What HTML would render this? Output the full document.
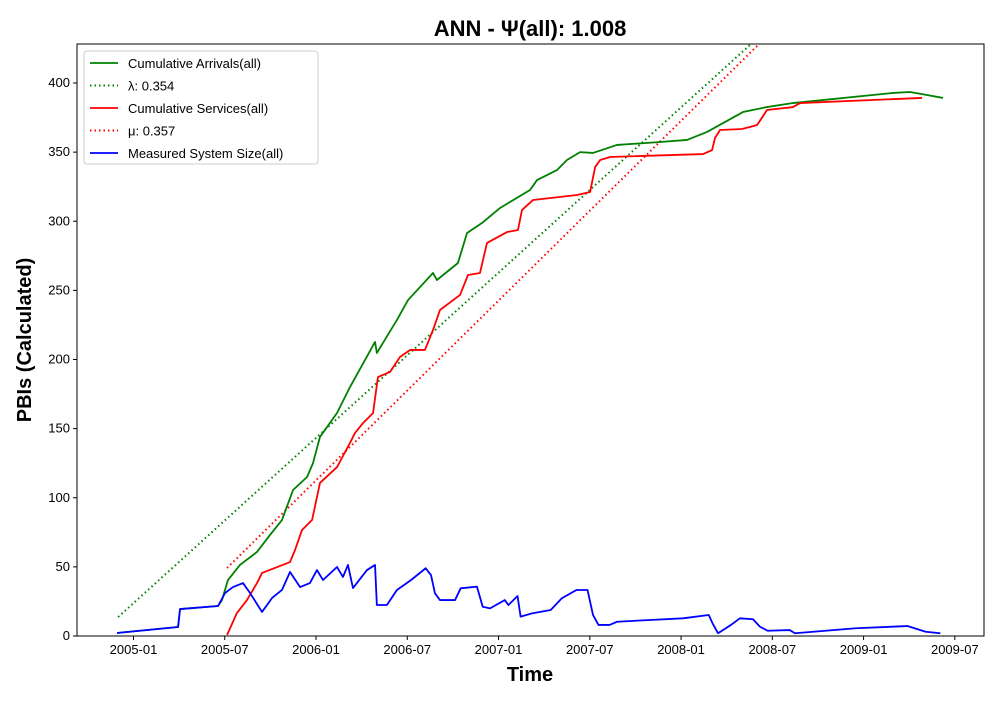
<!DOCTYPE html>
<html><head><meta charset="utf-8"><style>
body{margin:0;background:#fff;font-family:"Liberation Sans",sans-serif}
</style></head><body>
<svg id="chart" width="1000" height="700" xmlns="http://www.w3.org/2000/svg" font-family="Liberation Sans, DejaVu Sans, sans-serif"></svg>
<script>
// x values: months since 2005-01-01
const arrX=[-1.08,2.93,3.06,5.56,5.82,6.21,7.0,8.12,8.97,9.76,10.49,11.41,11.8,12.26,13.38,14.23,15.88,16.0,17.32,18.05,19.69,19.95,21.33,21.93,22.91,24.1,26.07,26.53,27.84,28.5,29.36,30.21,31.79,34.62,36.39,37.71,38.76,40.07,41.65,43.36,49.93,51.05,52.17,53.22];
const arrY=[2.2,6.5,19.5,21.7,26,40.5,51.4,60.8,73,83.9,105.6,115,125,144,161.3,180,212.7,204.7,228.6,243,262.6,257.5,269.8,291.5,298.7,309.6,322.6,329.8,337,344.3,350,349.4,355.2,357.3,358.8,364.6,371,379,382.6,385.5,392.8,393.5,391.3,389.2];
const srvX=[6.15,6.8,7.46,8.12,8.45,10.29,10.62,11.08,11.74,12.26,13.38,14.23,14.56,15.09,15.75,16.07,16.86,17.52,18.18,19.16,19.69,20.15,21.47,21.99,22.78,23.24,24.56,25.28,25.54,26.27,29.16,30.02,30.35,30.68,31.34,37.45,38.04,38.23,38.56,40.01,41.0,41.65,43.36,43.82,51.84];
const srvY=[0.7,16.6,26,38.3,45.6,53.5,62.2,76.7,83.9,110.7,122.2,139.6,146.8,154,161.3,187.3,191,201.8,206.9,206.9,221.3,235.8,246.7,261.1,262.6,284.3,292.2,293.7,308.1,315.4,319,321.2,339.2,344.3,346.5,348.6,351.5,360.2,366,366.7,369.6,380.5,382.6,385.5,389.2];
const sysX=[-1.08,2.93,3.06,5.56,6.02,6.54,7.2,7.66,8.45,9.11,9.76,10.29,10.95,11.6,12.06,12.46,13.38,13.77,14.1,14.43,15.35,15.88,16.0,16.66,17.32,18.25,19.21,19.56,19.82,20.15,21.14,21.51,22.58,22.96,23.44,24.41,24.65,25.25,25.45,26.2,27.43,28.16,29.13,29.85,30.21,30.57,31.3,31.79,33.96,36.13,37.82,38.07,38.43,39.28,39.87,40.73,41.19,41.69,43.14,43.49,47.49,50.88,52.08,53.05];
const sysY=[2.2,6.5,19.5,21.7,31.1,35.4,38.3,31.1,17.4,27.5,33.3,46.3,35.4,38.3,47.7,40.5,49.9,42.7,51.4,34.7,47.7,51.4,22.4,22.4,33.3,40.5,49,44.1,30.9,26,26,34.5,35.7,21.2,20,26,22.4,28.9,14,16.4,18.8,27.3,33.3,33.3,15.2,8,8,10.3,11.6,12.8,15.2,9.2,2,8,12.8,12.1,6.7,3.8,4.3,2,5.6,7.2,3.1,2];
const lamX=[-1.01,40.6], lamY=[13.7,428.2];
const muX=[6.15,41.13], muY=[49.2,428.2];
const yTicks=[0,50,100,150,200,250,300,350,400];
const xTickM=[0,6,12,18,24,30,36,42,48,54];
const xTickL=["2005-01","2005-07","2006-01","2006-07","2007-01","2007-07","2008-01","2008-07","2009-01","2009-07"];
const L=77,R=984,T=44,B=636;
const sx=m=>133.5+m*15.21;
const sy=v=>636-v*1.3825;
const svg=document.getElementById('chart');
const NS="http://www.w3.org/2000/svg";
function el(tag,attrs,parent){const e=document.createElementNS(NS,tag);for(const k in attrs)e.setAttribute(k,attrs[k]);(parent||svg).appendChild(e);return e;}
const defs=el('defs',{});const cp=el('clipPath',{id:'clip'},defs);el('rect',{x:L,y:T,width:R-L,height:B-T},cp);
const t=el('text',{x:530,y:36,'text-anchor':'middle','font-size':22,'font-weight':'bold'});t.textContent='ANN -  Ψ(all): 1.008';


const g=el('g',{'clip-path':'url(#clip)'});
function line(xs,ys,color,dash,name){
  const p=el('polyline',{points:xs.map((x,i)=>sx(x)+','+sy(ys[i])).join(' '),fill:'none',stroke:color,'stroke-width':dash?2:1.8,'stroke-dasharray':dash?'1.5,3':'none','stroke-linejoin':'round'},g);
  
  
}
line(lamX,lamY,'green',true,'lambda-line');
line(muX,muY,'red',true,'mu-line');
line(arrX,arrY,'green',false,'cumulative-arrivals-line');
line(srvX,srvY,'red',false,'cumulative-services-line');
line(sysX,sysY,'blue',false,'system-size-line');
const fr=el('rect',{x:L,y:T,width:R-L,height:B-T,fill:'none',stroke:'#000','stroke-width':1});


yTicks.forEach(v=>{el('line',{x1:L-4,x2:L,y1:sy(v),y2:sy(v),stroke:'#000'});
 const tx=el('text',{x:L-7,y:sy(v)+4,'text-anchor':'end','font-size':13});tx.textContent=v;
 
 });
xTickM.forEach((m,i)=>{el('line',{x1:sx(m),x2:sx(m),y1:B,y2:B+4,stroke:'#000'});
 const tx=el('text',{x:sx(m),y:B+18,'text-anchor':'middle','font-size':13});tx.textContent=xTickL[i];
 
 });
const xt=el('text',{x:530,y:681,'text-anchor':'middle','font-size':20,'font-weight':'bold'});xt.textContent='Time';


const yt=el('text',{x:31,y:340,'text-anchor':'middle','font-size':20,'font-weight':'bold',transform:'rotate(-90 31 340)'});yt.textContent='PBIs (Calculated)';


const lg=el('g',{});


el('rect',{x:84,y:51,width:234,height:113,fill:'#fff',stroke:'#ccc',rx:3},lg);
const items=[['Cumulative Arrivals(all)','green',false],['λ: 0.354','green',true],['Cumulative Services(all)','red',false],['μ: 0.357','red',true],['Measured System Size(all)','blue',false]];
items.forEach((it,i)=>{const y=63+i*22.5;
 el('line',{x1:90,x2:118,y1:y,y2:y,stroke:it[1],'stroke-width':it[2]?2:1.8,'stroke-dasharray':it[2]?'1.5,3':'none'},lg);
 const tx=el('text',{x:128,y:y+5,'font-size':13},lg);tx.textContent=it[0];
 
 });
</script>
</body></html>
